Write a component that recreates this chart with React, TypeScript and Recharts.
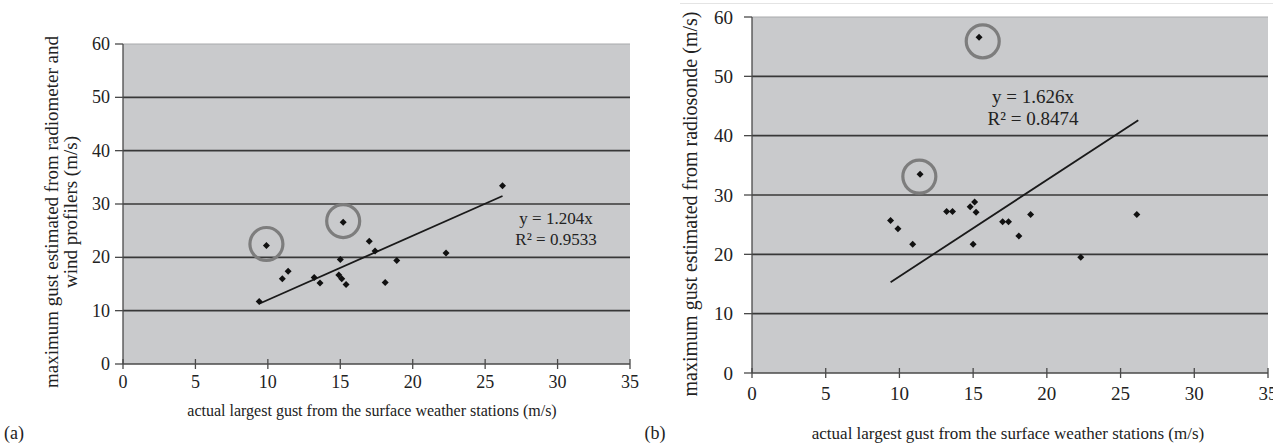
import React from "react"
import {
  ScatterChart,
  Scatter,
  XAxis,
  YAxis,
  CartesianGrid,
  ReferenceLine,
  ReferenceDot,
} from "recharts"

// panel (a): radiometer + wind profilers
const actualA = [9.4, 9.9, 11.0, 11.4, 13.2, 13.6, 14.9, 15.0, 15.1, 15.2, 15.4, 17.0, 17.4, 18.1, 18.9, 22.3, 26.2]
const estimatedA = [11.7, 22.2, 16.0, 17.4, 16.2, 15.2, 16.7, 19.6, 16.0, 26.6, 14.9, 23.0, 21.2, 15.3, 19.4, 20.8, 33.4]
const trendA = [
  { x: 9.4, y: 11.3 },
  { x: 26.2, y: 31.5 },
]
const circlesA = [
  { x: 9.9, y: 22.5 },
  { x: 15.2, y: 26.8 },
]

// panel (b): radiosonde
const actualB = [9.4, 9.9, 10.9, 11.4, 13.2, 13.6, 14.8, 15.0, 15.1, 15.2, 15.4, 17.0, 17.4, 18.1, 18.9, 22.3, 26.1]
const estimatedB = [25.7, 24.3, 21.7, 33.5, 27.2, 27.2, 28.0, 21.7, 28.8, 27.1, 56.6, 25.5, 25.5, 23.1, 26.7, 19.5, 26.7]
const trendB = [
  { x: 9.4, y: 15.3 },
  { x: 26.2, y: 42.6 },
]
const circlesB = [
  { x: 11.35, y: 33.1 },
  { x: 15.65, y: 55.9 },
]

const xTicks = [0, 5, 10, 15, 20, 25, 30, 35]
const yTicks = [0, 10, 20, 30, 40, 50, 60]
const gridLines = [10, 20, 30, 40, 50]

const pointsA = actualA.map((x, i) => ({ x, y: estimatedA[i] }))
const pointsB = actualB.map((x, i) => ({ x, y: estimatedB[i] }))

const FONT = '"Liberation Serif", "Times New Roman", serif'
const TEXT = "#222"

function Diamond(props: any) {
  const { cx, cy } = props
  const s = 3.5
  return (
    <polygon
      points={`${cx},${cy - s} ${cx + s},${cy} ${cx},${cy + s} ${cx - s},${cy}`}
      fill="#111"
    />
  )
}

function makeXTick(labelOffset: number, fontSize: number) {
  return (props: any) => {
    const { x, y, payload } = props
    return (
      <g>
        <line x1={x} x2={x} y1={y - 5} y2={y + 5} stroke="#4a4a4a" strokeWidth={1.3} />
        <text
          x={x}
          y={y + labelOffset}
          textAnchor="middle"
          dominantBaseline="central"
          style={{ fontFamily: FONT, fontSize }}
          fill={TEXT}
        >
          {payload.value}
        </text>
      </g>
    )
  }
}

function makeYTick(labelGap: number, fontSize: number) {
  return (props: any) => {
    const { x, y, payload } = props
    return (
      <g>
        <line x1={x - 8} x2={x} y1={y} y2={y} stroke="#4a4a4a" strokeWidth={1.3} />
        <text
          x={x - labelGap}
          y={y}
          textAnchor="end"
          dominantBaseline="central"
          style={{ fontFamily: FONT, fontSize }}
          fill={TEXT}
        >
          {payload.value}
        </text>
      </g>
    )
  }
}

interface PanelProps {
  points: Array<{ x: number; y: number }>
  trend: Array<{ x: number; y: number }>
  circles: Array<{ x: number; y: number }>
  width: number
  margin: { top: number; right: number; bottom: number; left: number }
  xLabelOffset: number
  yLabelGap: number
  tickFont: number
}

function Panel({ points, trend, circles, width, margin, xLabelOffset, yLabelGap, tickFont }: PanelProps) {
  return (
    <ScatterChart width={width} height={447} margin={margin}>
      <CartesianGrid horizontal={false} vertical={false} fill="#c9cacc" />
      <XAxis
        type="number"
        dataKey="x"
        domain={[0, 35]}
        ticks={xTicks}
        interval={0}
        height={30}
        tickSize={0}
        tickMargin={0}
        tickLine={false}
        axisLine={{ stroke: "#4a4a4a", strokeWidth: 1.3 }}
        tick={makeXTick(xLabelOffset, tickFont)}
      />
      <YAxis
        type="number"
        dataKey="y"
        domain={[0, 60]}
        ticks={yTicks}
        interval={0}
        width={40}
        tickSize={0}
        tickMargin={0}
        tickLine={false}
        axisLine={{ stroke: "#4a4a4a", strokeWidth: 1.3 }}
        tick={makeYTick(yLabelGap, tickFont)}
      />
      {gridLines.map((v) => (
        <ReferenceLine key={v} y={v} stroke="#383838" strokeWidth={1.6} />
      ))}
      <ReferenceLine y={60} stroke="#a8a9ab" strokeWidth={1} />
      <ReferenceLine
        segment={[trend[0], trend[1]]}
        stroke="#1a1a1a"
        strokeWidth={1.8}
      />
      {circles.map((c, i) => (
        <ReferenceDot key={i} x={c.x} y={c.y} r={16.5} fill="none" stroke="#7d7d7d" strokeWidth={3.2} />
      ))}
      <Scatter data={points} shape={Diamond} isAnimationActive={false} />
    </ScatterChart>
  )
}

const abs = (left: number, top: number, size = 17): React.CSSProperties => ({
  position: "absolute",
  left,
  top,
  transform: "translate(-50%, -50%)",
  whiteSpace: "nowrap",
  fontFamily: FONT,
  fontSize: size,
  color: TEXT,
  lineHeight: 1,
})

const rot = (left: number, top: number, size = 19): React.CSSProperties => ({
  ...abs(left, top, size),
  transform: "translate(-50%, -50%) rotate(-90deg)",
  textAlign: "center",
  lineHeight: "19px",
})

export default function App() {
  return (
    <div
      style={{
        position: "absolute",
        left: 0,
        top: 0,
        width: 1273,
        height: 447,
        background: "#fff",
        overflow: "hidden",
      }}
    >
      <div style={{ position: "absolute", left: 0, top: 0 }}>
        <Panel
          points={pointsA}
          trend={trendA}
          circles={circlesA}
          width={640}
          margin={{ top: 44, right: 10, bottom: 53, left: 83 }}
          xLabelOffset={18}
          yLabelGap={13}
          tickFont={18}
        />
      </div>
      <div style={{ position: "absolute", left: 640, top: 0 }}>
        <Panel
          points={pointsB}
          trend={trendB}
          circles={circlesB}
          width={633}
          margin={{ top: 17, right: 5, bottom: 44, left: 72 }}
          xLabelOffset={20}
          yLabelGap={19}
          tickFont={19}
        />
      </div>

      <div style={{ position: "absolute", left: 680, top: 3, width: 593, height: 1, background: "#e4e4e4" }} />

      <div style={abs(556, 218, 17)}>y = 1.204x</div>
      <div style={abs(556, 239, 17)}>R² = 0.9533</div>
      <div style={abs(1033, 96, 19)}>y = 1.626x</div>
      <div style={abs(1033, 118, 19)}>R² = 0.8474</div>

      <div style={abs(372, 411, 16)}>actual largest gust from the surface weather stations (m/s)</div>
      <div style={abs(1008, 433, 17)}>actual largest gust from the surface weather stations (m/s)</div>

      <div style={rot(61, 212)}>
        maximum gust estimated from radiometer and
        <br />
        wind profilers (m/s)
      </div>
      <div style={rot(690, 204, 20)}>maximum gust estimated from radiosonde (m/s)</div>

      <div style={abs(14, 433, 18)}>(a)</div>
      <div style={abs(655, 433, 18)}>(b)</div>
    </div>
  )
}
